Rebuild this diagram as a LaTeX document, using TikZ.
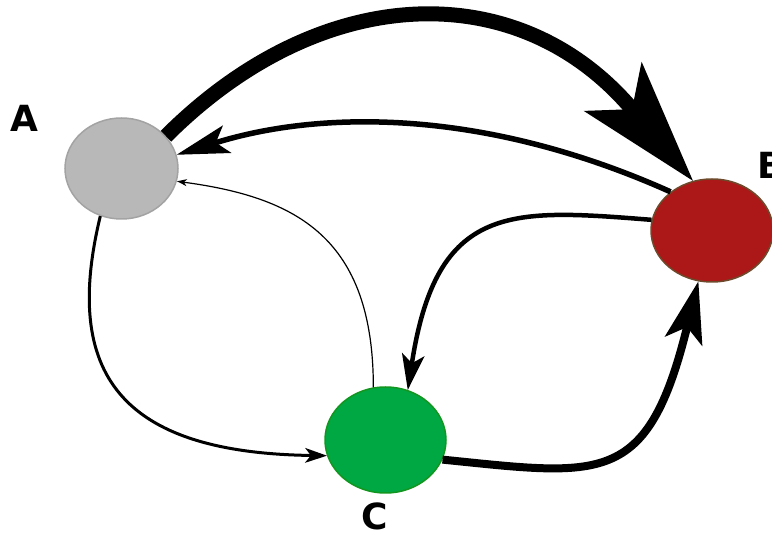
\documentclass[tikz,border=0pt]{standalone}
\usepackage{fontspec}
\setsansfont{DejaVu Sans}
\usetikzlibrary{arrows.meta,shapes.geometric}
\definecolor{fillA}{HTML}{B8B8B8}
\definecolor{lineA}{HTML}{A3A3A3}
\definecolor{fillB}{HTML}{AC1717}
\definecolor{lineB}{HTML}{6E4A2C}
\definecolor{fillC}{HTML}{00A843}
\definecolor{lineC}{HTML}{13961F}
\tikzset{
    state/.style={ellipse,line width=1.5pt,inner sep=0pt},
    lbl/.style={font=\sffamily\bfseries\fontsize{36}{36}\selectfont,inner sep=0pt}
}
\begin{document}
\begin{tikzpicture}[x=1pt,y=1pt]
        \useasboundingbox (0,0) rectangle (772,533);
        \node[state,fill=fillA,draw=lineA,minimum width=113pt,minimum height=101pt] (A) at (121.5,364.5) {};
        \node[state,fill=fillB,draw=lineB,minimum width=122pt,minimum height=103pt] (B) at (712,302.5) {};
        \node[state,fill=fillC,draw=lineC,minimum width=121pt,minimum height=106pt] (C) at (385.5,93) {};
        \node[lbl] (la) at (24,415) {A};
        \node[lbl] (lb) at (771,368) {B};
        \node[lbl] (lc) at (375,16.5) {C};
        \draw[line width=15pt,-{Stealth[length=124pt,width=76pt,inset=30pt,line width=0pt]}] (A.36) .. controls +(155,155) and +(-175,206) .. (B.111);
        \draw[line width=5.5pt,-{Stealth[length=53pt,width=29pt,inset=12pt,line width=0pt]}] (B.137) .. controls +(-185,83) and +(146,45) .. (A.14);
        \draw[line width=1.2pt,-{Stealth[length=10pt,width=7pt,inset=3pt,line width=0pt]}] (C.103) .. controls +(0,150) and +(119,-16) .. (A.-13);
        \draw[line width=3pt,-{Stealth[length=22pt,width=15pt,inset=6pt,line width=0pt]}] (A.246) .. controls +(-38,-157) and +(-207,3) .. (C.195);
        \draw[line width=4.5pt,-{Stealth[length=36pt,width=23pt,inset=9pt,line width=0pt]}] (B.170) .. controls +(-140,11) and +(29,188) .. (C.66);
        \draw[line width=8pt,-{Stealth[length=62pt,width=39pt,inset=15pt,line width=0pt]}] (C.-19) .. controls +(159,-16) and +(-51,-206) .. (B.-105);
\end{tikzpicture}
\end{document}
